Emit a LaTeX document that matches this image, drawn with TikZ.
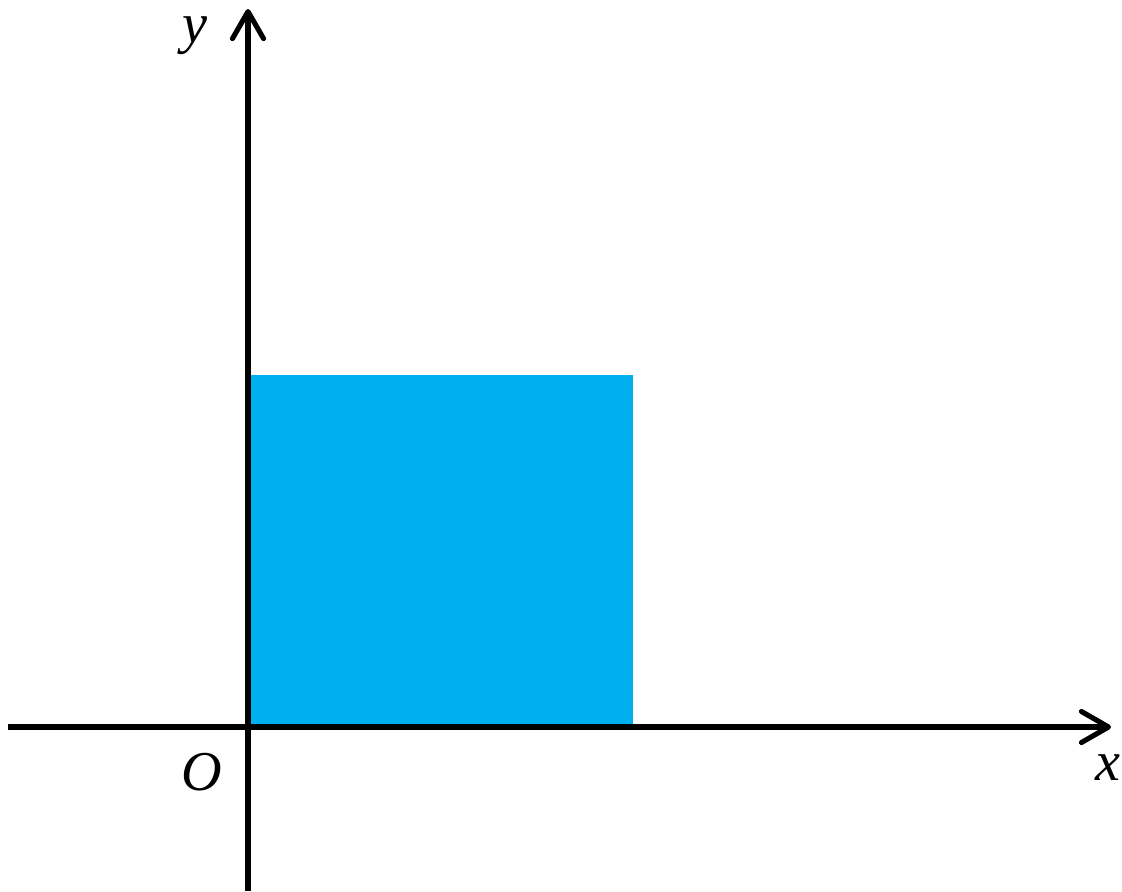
\documentclass[tikz,border=0pt]{standalone}
\usepackage{fontspec}
\setmainfont{Liberation Serif}
\usetikzlibrary{arrows.meta}
\definecolor{areablue}{HTML}{00AFEF}

\begin{document}
\begin{tikzpicture}[x=0.01cm,y=-0.01cm,line width=1.45pt,
    axis/.style={-{Straight Barb[length=0.27cm,width=0.31cm,line cap=round,line join=round]}},
    lab/.style={font=\fontsize{16}{18}\selectfont\itshape}]
			\useasboundingbox (0,0) rectangle (1122,891);
			\coordinate (o) at (248,727);
			\coordinate (xl) at (8,727);
			\coordinate (xr) at (1111,727);
			\coordinate (yb) at (248,891);
			\coordinate (yt) at (248,9);
			\fill[areablue] (o) rectangle (633,375);
			\draw[axis] (xl)--(xr);
			\draw[axis] (yb)--(yt);
			\node[lab] (ylab) at (195,36) {y};
			\node[lab] (xlab) at (1108,768) {x};
			\node[lab] (olab) at (202,772) {O};
		\end{tikzpicture}
\end{document}
